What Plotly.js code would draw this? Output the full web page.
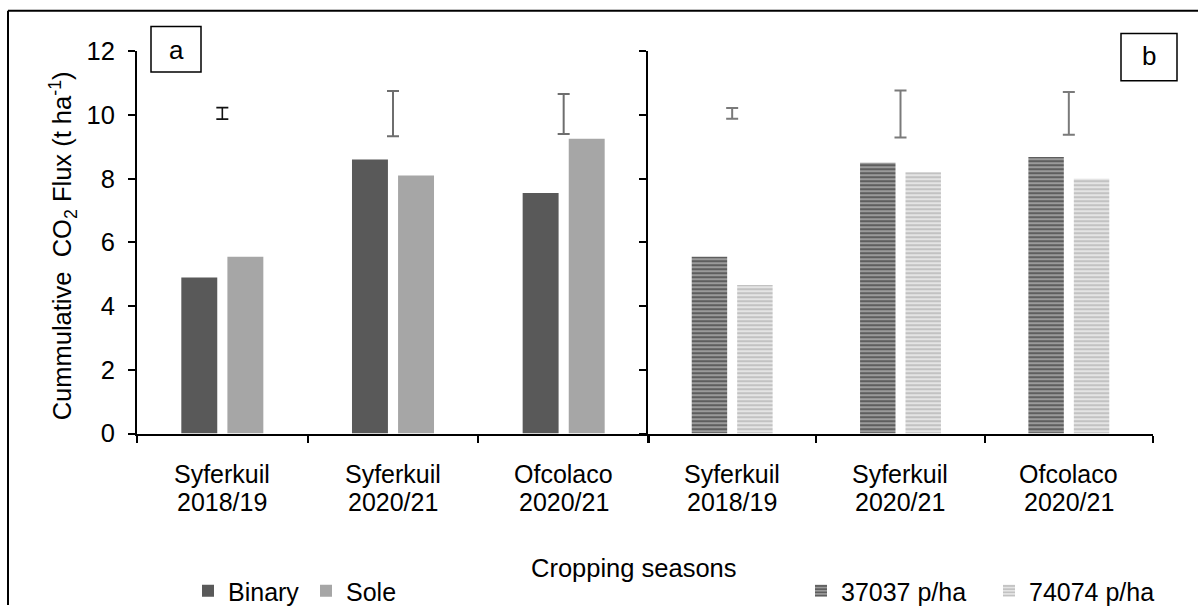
<!DOCTYPE html>
<html>
<head>
<meta charset="utf-8">
<script src="https://cdn.plot.ly/plotly-3.0.1.min.js"></script>
<style>
  html, body { margin: 0; padding: 0; background: #ffffff; }
  #chart { width: 1198px; height: 614px; }
</style>
</head>
<body>
<div id="chart"></div>
<script>
// ---- data ----
const categoryLocations = ['Syferkuil', 'Syferkuil', 'Ofcolaco'];
const categorySeasons = ['2018/19', '2020/21', '2020/21'];
const categories = categoryLocations.map((loc, i) => loc + ' ' + categorySeasons[i]);

// panel a: cropping system
const binaryValues = [4.9, 8.6, 7.55];
const soleValues = [5.55, 8.1, 9.25];
// panel b: plant density
const density37037Values = [5.55, 8.5, 8.68];
const density74074Values = [4.66, 8.2, 8.0];

// floating error bars (centre and half-length)
const errCentreA = [10.05, 10.04, 10.03];
const errHalfA = [0.18, 0.71, 0.63];
const errCentreB = [10.05, 10.03, 10.05];
const errHalfB = [0.17, 0.74, 0.67];

const seriesNamesA = ['Binary', 'Sole'];
const seriesNamesB = ['37037 p/ha', '74074 p/ha'];
const yTickValues = [0, 2, 4, 6, 8, 10, 12];

// ---- helpers ----
const W = 1198, H = 614;
const px = v => v / W;
const py = v => 1 - v / H;
const FONT = 'Liberation Sans, Arial, sans-serif';
const FS = 25.5;

const noMarker = { size: 1, color: 'rgba(0,0,0,0)' };

const traces = [
  {
    type: 'bar', name: seriesNamesA[0], x: categories, y: binaryValues,
    xaxis: 'x', yaxis: 'y', legend: 'legend',
    marker: { color: '#595959', line: { width: 0 } }
  },
  {
    type: 'bar', name: seriesNamesA[1], x: categories, y: soleValues,
    xaxis: 'x', yaxis: 'y', legend: 'legend',
    marker: { color: '#a6a6a6', line: { width: 0 } }
  },
  {
    type: 'bar', name: seriesNamesB[0], x: categories, y: density37037Values,
    xaxis: 'x2', yaxis: 'y2', legend: 'legend2',
    marker: {
      color: '#8c8c8c', line: { width: 0 },
      pattern: { shape: '-', fgcolor: '#5e5e5e', bgcolor: '#9a9a9a', size: 4, solidity: 0.5 }
    }
  },
  {
    type: 'bar', name: seriesNamesB[1], x: categories, y: density74074Values,
    xaxis: 'x2', yaxis: 'y2', legend: 'legend2',
    marker: {
      color: '#d0d0d0', line: { width: 0 },
      pattern: { shape: '-', fgcolor: '#c2c2c2', bgcolor: '#e4e4e4', size: 4, solidity: 0.5 }
    }
  },
  {
    type: 'scatter', mode: 'markers', x: categories.slice(0, 1), y: errCentreA.slice(0, 1),
    xaxis: 'x', yaxis: 'y', showlegend: false, hoverinfo: 'skip', marker: noMarker,
    error_y: { type: 'data', array: errHalfA.slice(0, 1), symmetric: true, color: '#111111', thickness: 1.6, width: 6 }
  },
  {
    type: 'scatter', mode: 'markers', x: categories.slice(1), y: errCentreA.slice(1),
    xaxis: 'x', yaxis: 'y', showlegend: false, hoverinfo: 'skip', marker: noMarker,
    error_y: { type: 'data', array: errHalfA.slice(1), symmetric: true, color: '#6e6e6e', thickness: 2, width: 6 }
  },
  {
    type: 'scatter', mode: 'markers', x: categories, y: errCentreB,
    xaxis: 'x2', yaxis: 'y2', showlegend: false, hoverinfo: 'skip', marker: noMarker,
    error_y: { type: 'data', array: errHalfB, symmetric: true, color: '#7a7a7a', thickness: 2, width: 6 }
  }
];

const yBase = {
  range: [0, 12], tickvals: yTickValues,
  showgrid: false, zeroline: false,
  showline: true, linecolor: '#000000', linewidth: 2,
  ticks: 'outside', ticklen: 7, tickwidth: 2, tickcolor: '#000000',
  domain: [py(440), py(52)], fixedrange: true
};
const xBase = {
  type: 'category', range: [-0.5, 2.5],
  showgrid: false, zeroline: false,
  showline: true, linecolor: '#000000', linewidth: 2,
  ticks: 'outside', ticklen: 7, tickwidth: 2, tickcolor: '#000000',
  tickson: 'boundaries', showticklabels: false,
  fixedrange: true
};

// category labels (two lines, tight spacing) on both panels
const catAnnotations = [];
['x', 'x2'].forEach(ax => {
  categories.forEach((c, i) => {
    catAnnotations.push({ xref: ax, yref: 'paper', x: c, y: py(481), text: categoryLocations[i],
      showarrow: false, xanchor: 'center', yanchor: 'middle', font: { family: FONT, size: 25, color: '#000000' } });
    catAnnotations.push({ xref: ax, yref: 'paper', x: c, y: py(509), text: categorySeasons[i],
      showarrow: false, xanchor: 'center', yanchor: 'middle', font: { family: FONT, size: 25, color: '#000000' } });
  });
});

const layout = {
  width: W, height: H,
  margin: { l: 0, r: 0, t: 0, b: 0 },
  paper_bgcolor: '#ffffff', plot_bgcolor: 'rgba(0,0,0,0)',
  font: { family: FONT, color: '#000000' },
  barmode: 'group', bargap: 0.46, bargroupgap: 0.22,
  xaxis: Object.assign({}, xBase, { domain: [px(137), px(649)], anchor: 'y' }),
  xaxis2: Object.assign({}, xBase, { domain: [px(648), px(1153)], anchor: 'y2' }),
  yaxis: Object.assign({}, yBase, { anchor: 'x', ticklabelstandoff: 8, tickfont: { family: FONT, size: FS, color: '#000000' } }),
  yaxis2: Object.assign({}, yBase, { anchor: 'x2', showticklabels: false }),
  legend: {
    orientation: 'h', x: px(188), y: py(600), xanchor: 'left', yanchor: 'middle',
    font: { family: FONT, size: 25, color: '#000000' }, bgcolor: 'rgba(0,0,0,0)',
    entrywidth: 73, entrywidthmode: 'pixels',
    itemclick: false, itemdoubleclick: false
  },
  legend2: {
    orientation: 'h', x: px(801), y: py(600), xanchor: 'left', yanchor: 'middle',
    font: { family: FONT, size: 25, color: '#000000' }, bgcolor: 'rgba(0,0,0,0)',
    entrywidth: 143, entrywidthmode: 'pixels',
    itemclick: false, itemdoubleclick: false
  },
  shapes: [
    { type: 'line', xref: 'paper', yref: 'paper', x0: px(8), x1: px(1198), y0: py(11), y1: py(11), line: { color: '#000000', width: 2 } },
    { type: 'line', xref: 'paper', yref: 'paper', x0: px(8), x1: px(8), y0: py(11), y1: py(614), line: { color: '#000000', width: 2 } },
    { type: 'rect', xref: 'paper', yref: 'paper', x0: px(151), x1: px(201), y0: py(73), y1: py(27), line: { color: '#000000', width: 1.5 } },
    { type: 'rect', xref: 'paper', yref: 'paper', x0: px(1121), x1: px(1177), y0: py(82), y1: py(34), line: { color: '#000000', width: 1.5 } }
  ],
  annotations: catAnnotations.concat([
    { xref: 'paper', yref: 'paper', x: px(176), y: py(51), text: 'a', showarrow: false, xanchor: 'center', yanchor: 'middle', font: { family: FONT, size: 26, color: '#000000' } },
    { xref: 'paper', yref: 'paper', x: px(1149), y: py(57), text: 'b', showarrow: false, xanchor: 'center', yanchor: 'middle', font: { family: FONT, size: 26, color: '#000000' } },
    { xref: 'paper', yref: 'paper', x: px(634), y: py(576), text: 'Cropping seasons', showarrow: false, xanchor: 'center', yanchor: 'middle', font: { family: FONT, size: FS, color: '#000000' } },
    { xref: 'paper', yref: 'paper', x: px(63), y: py(250), text: 'Cummulative\u00a0 CO<sub>2</sub> Flux (t ha<sup>-1</sup>)', textangle: -90, showarrow: false, xanchor: 'center', yanchor: 'middle', font: { family: FONT, size: FS, color: '#000000' } }
  ])
};

Plotly.newPlot('chart', traces, layout, { displayModeBar: false, staticPlot: true });
</script>
</body>
</html>
